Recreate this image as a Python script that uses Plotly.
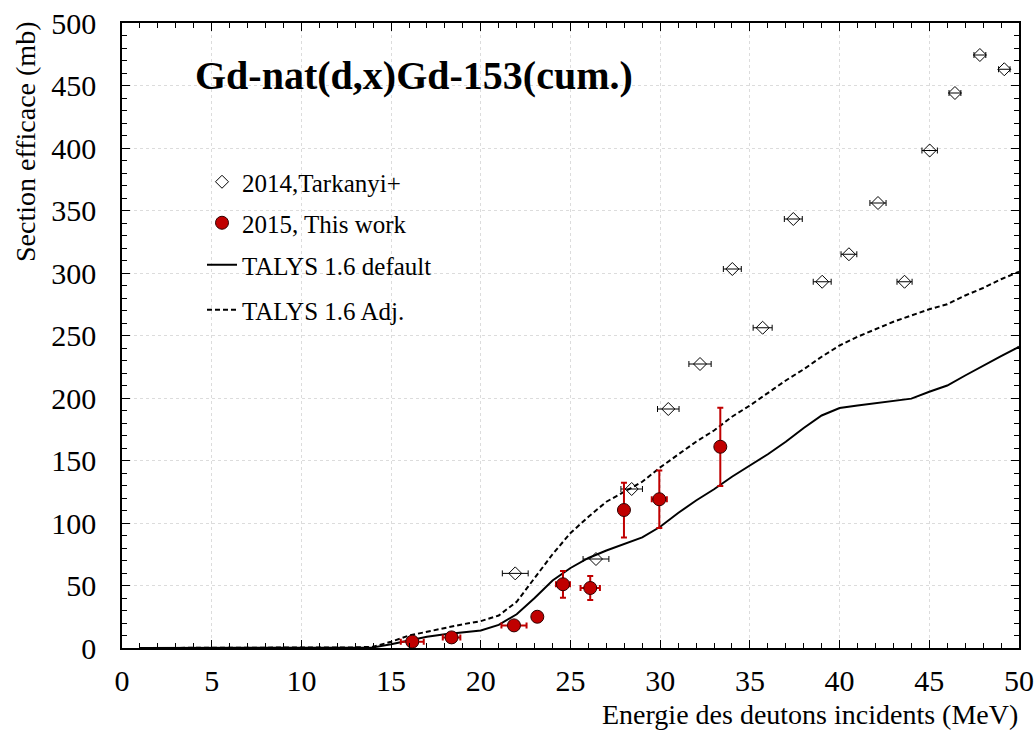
import plotly.graph_objects as go

# --- Data ---
tark_x = [21.92, 26.42, 28.41, 30.45, 32.22, 34.02, 35.71, 37.42, 39.03, 40.52, 42.14, 43.62, 45.02, 46.43, 47.82, 49.18]
tark_y = [59.7, 71.2, 127.2, 191.2, 227.2, 303.2, 256.2, 343.2, 293.0, 315.0, 356.0, 293.0, 398.0, 444.0, 474.4, 463.0]
tark_xerr = [0.72, 0.72, 0.6, 0.6, 0.62, 0.5, 0.53, 0.5, 0.5, 0.44, 0.45, 0.42, 0.43, 0.33, 0.33, 0.32]

this_x = [16.18, 18.37, 21.85, 23.15, 24.58, 26.10, 27.98, 29.95, 33.35]
this_y = [5.1, 8.5, 18.1, 25.0, 51.0, 48.0, 110.4, 119.0, 161.0]
this_xerr = [0.64, 0.49, 0.7, 0.2, 0.39, 0.54, 0.15, 0.42, 0.15]
this_yerr = [1.5, 1.5, 2.0, 3.9, 10.7, 9.6, 21.9, 23.0, 31.3]

talys_x = list(range(1, 51))
talys_def = [0, 0, 0, 0, 0, 0, 0, 0, 0.1, 0.1, 0.2, 0.2, 0.3, 0.5, 3, 6, 9, 11, 12.5, 14,
             18.5, 27, 40, 54, 64, 72, 78, 83, 88.5, 97, 108, 118, 127, 137, 146, 155, 165, 176, 186, 192,
             194, 196, 198, 199.5, 205, 210, 218, 226, 233.5, 241]
talys_adj = [0, 0, 0, 0, 0, 0, 0, 0, 0.1, 0.2, 0.3, 0.4, 0.5, 1, 5, 10, 13, 16.5, 19, 21.5,
             26, 37, 56, 75, 92, 105, 117, 125, 133, 144.5, 155, 165, 174, 185, 194, 204, 214, 223, 233, 242,
             249, 255, 261, 266, 271, 275, 282, 288, 295, 301]

title_text = "Gd-nat(d,x)Gd-153(cum.)"
x_title = "Energie des deutons incidents (MeV)"
y_title = "Section efficace (mb)"

FONT = "Liberation Serif"
RED = "#c00000"

fig = go.Figure()

fig.add_trace(go.Scatter(
    x=talys_x, y=talys_def, mode="lines", name="TALYS 1.6 default",
    line=dict(color="black", width=2), legend="legend4"))
fig.add_trace(go.Scatter(
    x=talys_x, y=talys_adj, mode="lines", name="TALYS 1.6 Adj.",
    line=dict(color="black", width=2, dash="5px,3px"), legend="legend5"))
fig.add_trace(go.Scatter(
    x=tark_x, y=tark_y, mode="markers", name="2014,Tarkanyi+",
    marker=dict(symbol="diamond-open", size=10, color="black", line=dict(width=1)),
    error_x=dict(type="data", array=tark_xerr, color="black", thickness=1, width=3),
    legend="legend2"))
fig.add_trace(go.Scatter(
    x=this_x, y=this_y, mode="markers", name="2015, This work",
    marker=dict(symbol="circle", size=13, color=RED, line=dict(width=1, color="#300000")),
    error_x=dict(type="data", array=this_xerr, color=RED, thickness=2, width=3),
    error_y=dict(type="data", array=this_yerr, color=RED, thickness=2, width=3),
    legend="legend3"))
# mirrored axes (top/right ticks) carrying an invisible copy of the default curve
fig.add_trace(go.Scatter(
    x=talys_x, y=talys_def, mode="lines", xaxis="x2", yaxis="y2",
    line=dict(color="rgba(0,0,0,0)", width=0), showlegend=False, hoverinfo="skip"))

L, R, T, B = 122, 17, 23, 87
W, H = 1036, 735
ph = H - T - B
pw = W - L - R

def py(px):
    return (H - B - px) / ph

def pxx(px):
    return (px - L) / pw

leg_common = dict(bgcolor="rgba(0,0,0,0)", xanchor="left", yanchor="middle", itemwidth=30)
lx = pxx(202)
fig.update_layout(
    showlegend=True,
    legend2=dict(x=lx, y=py(182), font=dict(family=FONT, size=25, color="black"), **leg_common),
    legend3=dict(x=lx, y=py(223), font=dict(family=FONT, size=25, color="black"), **leg_common),
    legend4=dict(x=lx, y=py(265), font=dict(family=FONT, size=25, color="black"), **leg_common),
    legend5=dict(x=lx, y=py(310), font=dict(family=FONT, size=25, color="black"), **leg_common),
)

tick_font = dict(family=FONT, size=30, color="black")
axis_common = dict(
    showline=True, linecolor="black", linewidth=1.5,
    ticks="inside", ticklen=8, tickwidth=1, tickcolor="black",
    zeroline=False,
)

fig.update_layout(
    xaxis=dict(range=[0, 50], dtick=5, tick0=0, ticklabelstandoff=5, tickfont=tick_font,
               showgrid=True, gridcolor="#dcdcdc", griddash="dot", gridwidth=1,
               minor=dict(dtick=1, ticklen=5, ticks="inside", tickcolor="black", showgrid=False),
               **axis_common),
    yaxis=dict(range=[0, 500], dtick=50, tick0=0, ticklabelstandoff=18, tickfont=tick_font,
               showgrid=True, gridcolor="#dcdcdc", griddash="dot", gridwidth=1,
               minor=dict(dtick=10, ticklen=5, ticks="inside", tickcolor="black", showgrid=False),
               **axis_common),
    xaxis2=dict(range=[0, 50], dtick=5, tick0=0, overlaying="x", side="top", anchor="y2",
                showticklabels=False, showgrid=False,
                minor=dict(dtick=1, ticklen=5, ticks="inside", tickcolor="black", showgrid=False),
                **axis_common),
    yaxis2=dict(range=[0, 500], dtick=50, tick0=0, overlaying="y", side="right", anchor="x2",
                showticklabels=False, showgrid=False,
                minor=dict(dtick=10, ticklen=5, ticks="inside", tickcolor="black", showgrid=False),
                **axis_common),
)

fig.add_annotation(text=title_text, xref="paper", yref="paper", x=pxx(193), y=py(75),
                   xanchor="left", yanchor="middle", showarrow=False,
                   font=dict(family=FONT, size=40, color="black", weight="bold"))
fig.add_annotation(text=x_title, xref="paper", yref="paper", x=pxx(1020), y=py(714),
                   xanchor="right", yanchor="middle", showarrow=False,
                   font=dict(family=FONT, size=28, color="black"))
fig.add_annotation(text=y_title, xref="paper", yref="paper", x=pxx(25), y=py(142),
                   xanchor="center", yanchor="middle", showarrow=False, textangle=-90,
                   font=dict(family=FONT, size=28, color="black"))

fig.update_layout(
    width=W, height=H, margin=dict(l=L, r=R, t=T, b=B, autoexpand=False),
    paper_bgcolor="white", plot_bgcolor="white",
    font=dict(family=FONT, color="black"),
)

fig.write_html("out.html", config={"displayModeBar": False},
               post_script="document.body.style.margin='0';document.body.style.overflow='hidden';")
